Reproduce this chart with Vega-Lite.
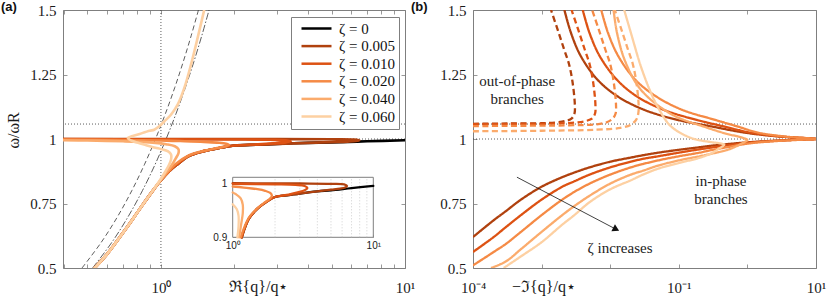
{
"$schema": "https://vega.github.io/schema/vega-lite/v6.json",
"padding": {"left": 0, "top": 0, "right": 4, "bottom": 4},
"datasets": {
"a": [
{"z":"ζ = 0","i":0,"q":0.535,"w":0.5},{"z":"ζ = 0","i":1,"q":0.597,"w":0.55},{"z":"ζ = 0","i":2,"q":0.655,"w":0.6},{"z":"ζ = 0","i":3,"q":0.716,"w":0.65},{"z":"ζ = 0","i":4,"q":0.78,"w":0.7},{"z":"ζ = 0","i":5,"q":0.849,"w":0.75},{"z":"ζ = 0","i":6,"q":0.927,"w":0.8},{"z":"ζ = 0","i":7,"q":1.0,"w":0.84},{"z":"ζ = 0","i":8,"q":1.08,"w":0.875},{"z":"ζ = 0","i":9,"q":1.16,"w":0.9},{"z":"ζ = 0","i":10,"q":1.3,"w":0.934},{"z":"ζ = 0","i":11,"q":1.5,"w":0.953},{"z":"ζ = 0","i":12,"q":1.75,"w":0.966},{"z":"ζ = 0","i":13,"q":2,"w":0.9745},{"z":"ζ = 0","i":14,"q":2.5,"w":0.978},{"z":"ζ = 0","i":15,"q":3,"w":0.981},{"z":"ζ = 0","i":16,"q":4,"w":0.985},{"z":"ζ = 0","i":17,"q":5,"w":0.987},{"z":"ζ = 0","i":18,"q":7,"w":0.991},{"z":"ζ = 0","i":19,"q":10,"w":0.995},
{"z":"ζ = 0.005","i":0,"q":0.535,"w":0.5},{"z":"ζ = 0.005","i":1,"q":0.597,"w":0.55},{"z":"ζ = 0.005","i":2,"q":0.655,"w":0.6},{"z":"ζ = 0.005","i":3,"q":0.716,"w":0.65},{"z":"ζ = 0.005","i":4,"q":0.78,"w":0.7},{"z":"ζ = 0.005","i":5,"q":0.849,"w":0.75},{"z":"ζ = 0.005","i":6,"q":0.927,"w":0.8},{"z":"ζ = 0.005","i":7,"q":1.0,"w":0.84},{"z":"ζ = 0.005","i":8,"q":1.08,"w":0.875},{"z":"ζ = 0.005","i":9,"q":1.16,"w":0.9},{"z":"ζ = 0.005","i":10,"q":1.3,"w":0.934},{"z":"ζ = 0.005","i":11,"q":1.5,"w":0.953},{"z":"ζ = 0.005","i":12,"q":1.75,"w":0.966},{"z":"ζ = 0.005","i":13,"q":2,"w":0.9745},{"z":"ζ = 0.005","i":14,"q":2.5,"w":0.978},{"z":"ζ = 0.005","i":15,"q":3,"w":0.981},{"z":"ζ = 0.005","i":16,"q":4,"w":0.985},{"z":"ζ = 0.005","i":17,"q":5,"w":0.988},{"z":"ζ = 0.005","i":18,"q":5.8,"w":0.99},{"z":"ζ = 0.005","i":19,"q":6.3,"w":0.992},{"z":"ζ = 0.005","i":20,"q":6.5,"w":0.995},{"z":"ζ = 0.005","i":21,"q":6.2,"w":0.998},{"z":"ζ = 0.005","i":22,"q":5,"w":0.999},{"z":"ζ = 0.005","i":23,"q":3,"w":0.9995},{"z":"ζ = 0.005","i":24,"q":1,"w":1.0},{"z":"ζ = 0.005","i":25,"q":0.397,"w":1.0},
{"z":"ζ = 0.010","i":0,"q":0.535,"w":0.5},{"z":"ζ = 0.010","i":1,"q":0.597,"w":0.55},{"z":"ζ = 0.010","i":2,"q":0.655,"w":0.6},{"z":"ζ = 0.010","i":3,"q":0.716,"w":0.65},{"z":"ζ = 0.010","i":4,"q":0.78,"w":0.7},{"z":"ζ = 0.010","i":5,"q":0.849,"w":0.75},{"z":"ζ = 0.010","i":6,"q":0.927,"w":0.8},{"z":"ζ = 0.010","i":7,"q":1.0,"w":0.84},{"z":"ζ = 0.010","i":8,"q":1.08,"w":0.875},{"z":"ζ = 0.010","i":9,"q":1.16,"w":0.9},{"z":"ζ = 0.010","i":10,"q":1.3,"w":0.934},{"z":"ζ = 0.010","i":11,"q":1.5,"w":0.953},{"z":"ζ = 0.010","i":12,"q":1.75,"w":0.966},{"z":"ζ = 0.010","i":13,"q":2,"w":0.9745},{"z":"ζ = 0.010","i":14,"q":2.5,"w":0.979},{"z":"ζ = 0.010","i":15,"q":2.9,"w":0.983},{"z":"ζ = 0.010","i":16,"q":3.25,"w":0.987},{"z":"ζ = 0.010","i":17,"q":3.4,"w":0.991},{"z":"ζ = 0.010","i":18,"q":3.25,"w":0.995},{"z":"ζ = 0.010","i":19,"q":2.8,"w":0.997},{"z":"ζ = 0.010","i":20,"q":2,"w":0.998},{"z":"ζ = 0.010","i":21,"q":1,"w":0.999},{"z":"ζ = 0.010","i":22,"q":0.397,"w":0.9995},
{"z":"ζ = 0.020","i":0,"q":0.535,"w":0.5},{"z":"ζ = 0.020","i":1,"q":0.597,"w":0.55},{"z":"ζ = 0.020","i":2,"q":0.655,"w":0.6},{"z":"ζ = 0.020","i":3,"q":0.716,"w":0.65},{"z":"ζ = 0.020","i":4,"q":0.78,"w":0.7},{"z":"ζ = 0.020","i":5,"q":0.849,"w":0.75},{"z":"ζ = 0.020","i":6,"q":0.927,"w":0.8},{"z":"ζ = 0.020","i":7,"q":1.0,"w":0.84},{"z":"ζ = 0.020","i":8,"q":1.08,"w":0.876},{"z":"ζ = 0.020","i":9,"q":1.14,"w":0.9},{"z":"ζ = 0.020","i":10,"q":1.3,"w":0.936},{"z":"ζ = 0.020","i":11,"q":1.5,"w":0.954},{"z":"ζ = 0.020","i":12,"q":1.7,"w":0.965},{"z":"ζ = 0.020","i":13,"q":1.85,"w":0.972},{"z":"ζ = 0.020","i":14,"q":1.9,"w":0.977},{"z":"ζ = 0.020","i":15,"q":1.85,"w":0.982},{"z":"ζ = 0.020","i":16,"q":1.7,"w":0.986},{"z":"ζ = 0.020","i":17,"q":1.5,"w":0.989},{"z":"ζ = 0.020","i":18,"q":1.2,"w":0.992},{"z":"ζ = 0.020","i":19,"q":1.0,"w":0.994},{"z":"ζ = 0.020","i":20,"q":0.7,"w":0.996},{"z":"ζ = 0.020","i":21,"q":0.397,"w":0.998},
{"z":"ζ = 0.040","i":0,"q":0.535,"w":0.5},{"z":"ζ = 0.040","i":1,"q":0.597,"w":0.55},{"z":"ζ = 0.040","i":2,"q":0.655,"w":0.6},{"z":"ζ = 0.040","i":3,"q":0.716,"w":0.65},{"z":"ζ = 0.040","i":4,"q":0.78,"w":0.7},{"z":"ζ = 0.040","i":5,"q":0.849,"w":0.75},{"z":"ζ = 0.040","i":6,"q":0.927,"w":0.8},{"z":"ζ = 0.040","i":7,"q":1.0,"w":0.842},{"z":"ζ = 0.040","i":8,"q":1.06,"w":0.875},{"z":"ζ = 0.040","i":9,"q":1.11,"w":0.9},{"z":"ζ = 0.040","i":10,"q":1.15,"w":0.925},{"z":"ζ = 0.040","i":11,"q":1.18,"w":0.945},{"z":"ζ = 0.040","i":12,"q":1.18,"w":0.96},{"z":"ζ = 0.040","i":13,"q":1.14,"w":0.972},{"z":"ζ = 0.040","i":14,"q":1.05,"w":0.98},{"z":"ζ = 0.040","i":15,"q":1.0,"w":0.983},{"z":"ζ = 0.040","i":16,"q":0.9,"w":0.987},{"z":"ζ = 0.040","i":17,"q":0.7,"w":0.991},{"z":"ζ = 0.040","i":18,"q":0.5,"w":0.994},{"z":"ζ = 0.040","i":19,"q":0.397,"w":0.995},
{"z":"ζ = 0.060","i":0,"q":0.535,"w":0.5},{"z":"ζ = 0.060","i":1,"q":0.597,"w":0.55},{"z":"ζ = 0.060","i":2,"q":0.655,"w":0.6},{"z":"ζ = 0.060","i":3,"q":0.716,"w":0.65},{"z":"ζ = 0.060","i":4,"q":0.78,"w":0.7},{"z":"ζ = 0.060","i":5,"q":0.849,"w":0.75},{"z":"ζ = 0.060","i":6,"q":0.927,"w":0.8},{"z":"ζ = 0.060","i":7,"q":1.0,"w":0.846},{"z":"ζ = 0.060","i":8,"q":1.04,"w":0.872},{"z":"ζ = 0.060","i":9,"q":1.08,"w":0.9},{"z":"ζ = 0.060","i":10,"q":1.1,"w":0.92},{"z":"ζ = 0.060","i":11,"q":1.1,"w":0.94},{"z":"ζ = 0.060","i":12,"q":1.07,"w":0.952},{"z":"ζ = 0.060","i":13,"q":1.0,"w":0.961},{"z":"ζ = 0.060","i":14,"q":0.95,"w":0.966},{"z":"ζ = 0.060","i":15,"q":0.87,"w":0.976},{"z":"ζ = 0.060","i":16,"q":0.8,"w":0.986},{"z":"ζ = 0.060","i":17,"q":0.76,"w":0.993},{"z":"ζ = 0.060","i":18,"q":0.74,"w":0.999},{"z":"ζ = 0.060","i":19,"q":0.732,"w":1.004},{"z":"ζ = 0.060","i":20,"q":0.818,"w":1.0195},{"z":"ζ = 0.060","i":21,"q":0.899,"w":1.032},{"z":"ζ = 0.060","i":22,"q":0.939,"w":1.036},{"z":"ζ = 0.060","i":23,"q":0.984,"w":1.049},{"z":"ζ = 0.060","i":24,"q":1.032,"w":1.068},{"z":"ζ = 0.060","i":25,"q":1.099,"w":1.094},{"z":"ζ = 0.060","i":26,"q":1.171,"w":1.133},{"z":"ζ = 0.060","i":27,"q":1.246,"w":1.197},{"z":"ζ = 0.060","i":28,"q":1.327,"w":1.287},{"z":"ζ = 0.060","i":29,"q":1.413,"w":1.391},{"z":"ζ = 0.060","i":30,"q":1.504,"w":1.5}
],
"ad": [
{"k":"dash","i":0,"q":0.475,"w":0.5},{"k":"dash","i":1,"q":0.57,"w":0.6},{"k":"dash","i":2,"q":0.665,"w":0.7},{"k":"dash","i":3,"q":0.76,"w":0.8},{"k":"dash","i":4,"q":0.855,"w":0.9},{"k":"dash","i":5,"q":0.95,"w":1.0},{"k":"dash","i":6,"q":1.045,"w":1.1},{"k":"dash","i":7,"q":1.14,"w":1.2},{"k":"dash","i":8,"q":1.235,"w":1.3},{"k":"dash","i":9,"q":1.33,"w":1.4},{"k":"dash","i":10,"q":1.425,"w":1.5},
{"k":"dashdot","i":0,"q":0.525,"w":0.5},{"k":"dashdot","i":1,"q":0.63,"w":0.6},{"k":"dashdot","i":2,"q":0.735,"w":0.7},{"k":"dashdot","i":3,"q":0.84,"w":0.8},{"k":"dashdot","i":4,"q":0.945,"w":0.9},{"k":"dashdot","i":5,"q":1.05,"w":1.0},{"k":"dashdot","i":6,"q":1.155,"w":1.1},{"k":"dashdot","i":7,"q":1.26,"w":1.2},{"k":"dashdot","i":8,"q":1.365,"w":1.3},{"k":"dashdot","i":9,"q":1.47,"w":1.4},{"k":"dashdot","i":10,"q":1.575,"w":1.5}
],
"b": [
{"z":"ζ = 0.005","s":"solid","i":0,"q":0.0001,"w":0.62},{"z":"ζ = 0.005","s":"solid","i":1,"q":0.0002,"w":0.685},{"z":"ζ = 0.005","s":"solid","i":2,"q":0.0003,"w":0.72},{"z":"ζ = 0.005","s":"solid","i":3,"q":0.0005,"w":0.765},{"z":"ζ = 0.005","s":"solid","i":4,"q":0.001,"w":0.815},{"z":"ζ = 0.005","s":"solid","i":5,"q":0.002,"w":0.852},{"z":"ζ = 0.005","s":"solid","i":6,"q":0.003,"w":0.87},{"z":"ζ = 0.005","s":"solid","i":7,"q":0.005,"w":0.89},{"z":"ζ = 0.005","s":"solid","i":8,"q":0.01,"w":0.912},{"z":"ζ = 0.005","s":"solid","i":9,"q":0.02,"w":0.928},{"z":"ζ = 0.005","s":"solid","i":10,"q":0.03,"w":0.937},{"z":"ζ = 0.005","s":"solid","i":11,"q":0.05,"w":0.947},{"z":"ζ = 0.005","s":"solid","i":12,"q":0.1,"w":0.958},{"z":"ζ = 0.005","s":"solid","i":13,"q":0.2,"w":0.968},{"z":"ζ = 0.005","s":"solid","i":14,"q":0.3,"w":0.974},{"z":"ζ = 0.005","s":"solid","i":15,"q":0.5,"w":0.98},{"z":"ζ = 0.005","s":"solid","i":16,"q":1,"w":0.987},{"z":"ζ = 0.005","s":"solid","i":17,"q":2,"w":0.992},{"z":"ζ = 0.005","s":"solid","i":18,"q":5,"w":0.997},{"z":"ζ = 0.005","s":"solid","i":19,"q":10,"w":1.0},{"z":"ζ = 0.005","s":"solid","i":20,"q":2.77,"w":1.01},{"z":"ζ = 0.005","s":"solid","i":21,"q":0.902,"w":1.025},{"z":"ζ = 0.005","s":"solid","i":22,"q":0.294,"w":1.049},{"z":"ζ = 0.005","s":"solid","i":23,"q":0.0964,"w":1.074},{"z":"ζ = 0.005","s":"solid","i":24,"q":0.0314,"w":1.113},{"z":"ζ = 0.005","s":"solid","i":25,"q":0.01285,"w":1.165},{"z":"ζ = 0.005","s":"solid","i":26,"q":0.00658,"w":1.229},{"z":"ζ = 0.005","s":"solid","i":27,"q":0.00375,"w":1.32},{"z":"ζ = 0.005","s":"solid","i":28,"q":0.00269,"w":1.41},{"z":"ζ = 0.005","s":"solid","i":29,"q":0.00215,"w":1.5},
{"z":"ζ = 0.005","s":"dashed","i":0,"q":0.0001,"w":1.059},{"z":"ζ = 0.005","s":"dashed","i":1,"q":0.000316,"w":1.06},{"z":"ζ = 0.005","s":"dashed","i":2,"q":0.001,"w":1.061},{"z":"ζ = 0.005","s":"dashed","i":3,"q":0.001585,"w":1.064},{"z":"ζ = 0.005","s":"dashed","i":4,"q":0.002239,"w":1.07},{"z":"ζ = 0.005","s":"dashed","i":5,"q":0.002754,"w":1.08},{"z":"ζ = 0.005","s":"dashed","i":6,"q":0.00302,"w":1.1},{"z":"ζ = 0.005","s":"dashed","i":7,"q":0.003055,"w":1.13},{"z":"ζ = 0.005","s":"dashed","i":8,"q":0.002838,"w":1.217},{"z":"ζ = 0.005","s":"dashed","i":9,"q":0.002512,"w":1.29},{"z":"ζ = 0.005","s":"dashed","i":10,"q":0.002143,"w":1.345},{"z":"ζ = 0.005","s":"dashed","i":11,"q":0.001718,"w":1.423},{"z":"ζ = 0.005","s":"dashed","i":12,"q":0.001371,"w":1.5},
{"z":"ζ = 0.010","s":"solid","i":0,"q":0.0001,"w":0.562},{"z":"ζ = 0.010","s":"solid","i":1,"q":0.0002,"w":0.62},{"z":"ζ = 0.010","s":"solid","i":2,"q":0.0003,"w":0.658},{"z":"ζ = 0.010","s":"solid","i":3,"q":0.0005,"w":0.705},{"z":"ζ = 0.010","s":"solid","i":4,"q":0.001,"w":0.765},{"z":"ζ = 0.010","s":"solid","i":5,"q":0.002,"w":0.815},{"z":"ζ = 0.010","s":"solid","i":6,"q":0.003,"w":0.836},{"z":"ζ = 0.010","s":"solid","i":7,"q":0.005,"w":0.862},{"z":"ζ = 0.010","s":"solid","i":8,"q":0.01,"w":0.89},{"z":"ζ = 0.010","s":"solid","i":9,"q":0.02,"w":0.912},{"z":"ζ = 0.010","s":"solid","i":10,"q":0.03,"w":0.923},{"z":"ζ = 0.010","s":"solid","i":11,"q":0.05,"w":0.933},{"z":"ζ = 0.010","s":"solid","i":12,"q":0.1,"w":0.947},{"z":"ζ = 0.010","s":"solid","i":13,"q":0.2,"w":0.96},{"z":"ζ = 0.010","s":"solid","i":14,"q":0.3,"w":0.967},{"z":"ζ = 0.010","s":"solid","i":15,"q":0.5,"w":0.975},{"z":"ζ = 0.010","s":"solid","i":16,"q":1,"w":0.985},{"z":"ζ = 0.010","s":"solid","i":17,"q":2,"w":0.991},{"z":"ζ = 0.010","s":"solid","i":18,"q":5,"w":0.997},{"z":"ζ = 0.010","s":"solid","i":19,"q":10,"w":1.0},{"z":"ζ = 0.010","s":"solid","i":20,"q":3.02,"w":1.01},{"z":"ζ = 0.010","s":"solid","i":21,"q":1.096,"w":1.025},{"z":"ζ = 0.010","s":"solid","i":22,"q":0.447,"w":1.049},{"z":"ζ = 0.010","s":"solid","i":23,"q":0.182,"w":1.074},{"z":"ζ = 0.010","s":"solid","i":24,"q":0.0603,"w":1.113},{"z":"ζ = 0.010","s":"solid","i":25,"q":0.0245,"w":1.165},{"z":"ζ = 0.010","s":"solid","i":26,"q":0.0126,"w":1.229},{"z":"ζ = 0.010","s":"solid","i":27,"q":0.00708,"w":1.32},{"z":"ζ = 0.010","s":"solid","i":28,"q":0.00501,"w":1.41},{"z":"ζ = 0.010","s":"solid","i":29,"q":0.00398,"w":1.5},
{"z":"ζ = 0.010","s":"dashed","i":0,"q":0.0001,"w":1.058},{"z":"ζ = 0.010","s":"dashed","i":1,"q":0.000316,"w":1.058},{"z":"ζ = 0.010","s":"dashed","i":2,"q":0.001585,"w":1.06},{"z":"ζ = 0.010","s":"dashed","i":3,"q":0.003162,"w":1.064},{"z":"ζ = 0.010","s":"dashed","i":4,"q":0.004467,"w":1.07},{"z":"ζ = 0.010","s":"dashed","i":5,"q":0.005495,"w":1.08},{"z":"ζ = 0.010","s":"dashed","i":6,"q":0.006026,"w":1.1},{"z":"ζ = 0.010","s":"dashed","i":7,"q":0.006095,"w":1.13},{"z":"ζ = 0.010","s":"dashed","i":8,"q":0.005662,"w":1.217},{"z":"ζ = 0.010","s":"dashed","i":9,"q":0.005012,"w":1.29},{"z":"ζ = 0.010","s":"dashed","i":10,"q":0.004276,"w":1.345},{"z":"ζ = 0.010","s":"dashed","i":11,"q":0.003428,"w":1.423},{"z":"ζ = 0.010","s":"dashed","i":12,"q":0.002735,"w":1.5},
{"z":"ζ = 0.020","s":"solid","i":0,"q":0.0001,"w":0.51},{"z":"ζ = 0.020","s":"solid","i":1,"q":0.0002,"w":0.562},{"z":"ζ = 0.020","s":"solid","i":2,"q":0.0003,"w":0.593},{"z":"ζ = 0.020","s":"solid","i":3,"q":0.0005,"w":0.64},{"z":"ζ = 0.020","s":"solid","i":4,"q":0.001,"w":0.705},{"z":"ζ = 0.020","s":"solid","i":5,"q":0.002,"w":0.765},{"z":"ζ = 0.020","s":"solid","i":6,"q":0.003,"w":0.795},{"z":"ζ = 0.020","s":"solid","i":7,"q":0.005,"w":0.827},{"z":"ζ = 0.020","s":"solid","i":8,"q":0.01,"w":0.862},{"z":"ζ = 0.020","s":"solid","i":9,"q":0.02,"w":0.89},{"z":"ζ = 0.020","s":"solid","i":10,"q":0.03,"w":0.903},{"z":"ζ = 0.020","s":"solid","i":11,"q":0.05,"w":0.917},{"z":"ζ = 0.020","s":"solid","i":12,"q":0.1,"w":0.933},{"z":"ζ = 0.020","s":"solid","i":13,"q":0.2,"w":0.947},{"z":"ζ = 0.020","s":"solid","i":14,"q":0.3,"w":0.957},{"z":"ζ = 0.020","s":"solid","i":15,"q":0.5,"w":0.968},{"z":"ζ = 0.020","s":"solid","i":16,"q":1,"w":0.982},{"z":"ζ = 0.020","s":"solid","i":17,"q":2,"w":0.99},{"z":"ζ = 0.020","s":"solid","i":18,"q":5,"w":0.996},{"z":"ζ = 0.020","s":"solid","i":19,"q":10,"w":1.0},{"z":"ζ = 0.020","s":"solid","i":20,"q":3.39,"w":1.01},{"z":"ζ = 0.020","s":"solid","i":21,"q":1.413,"w":1.025},{"z":"ζ = 0.020","s":"solid","i":22,"q":0.708,"w":1.049},{"z":"ζ = 0.020","s":"solid","i":23,"q":0.339,"w":1.074},{"z":"ζ = 0.020","s":"solid","i":24,"q":0.112,"w":1.113},{"z":"ζ = 0.020","s":"solid","i":25,"q":0.0468,"w":1.165},{"z":"ζ = 0.020","s":"solid","i":26,"q":0.0234,"w":1.229},{"z":"ζ = 0.020","s":"solid","i":27,"q":0.0132,"w":1.32},{"z":"ζ = 0.020","s":"solid","i":28,"q":0.00933,"w":1.41},{"z":"ζ = 0.020","s":"solid","i":29,"q":0.00741,"w":1.5},
{"z":"ζ = 0.020","s":"dashed","i":0,"q":0.0001,"w":1.05},{"z":"ζ = 0.020","s":"dashed","i":1,"q":0.000316,"w":1.051},{"z":"ζ = 0.020","s":"dashed","i":2,"q":0.002512,"w":1.053},{"z":"ζ = 0.020","s":"dashed","i":3,"q":0.00631,"w":1.057},{"z":"ζ = 0.020","s":"dashed","i":4,"q":0.008913,"w":1.065},{"z":"ζ = 0.020","s":"dashed","i":5,"q":0.01096,"w":1.08},{"z":"ζ = 0.020","s":"dashed","i":6,"q":0.01202,"w":1.1},{"z":"ζ = 0.020","s":"dashed","i":7,"q":0.01216,"w":1.13},{"z":"ζ = 0.020","s":"dashed","i":8,"q":0.0113,"w":1.217},{"z":"ζ = 0.020","s":"dashed","i":9,"q":0.01,"w":1.29},{"z":"ζ = 0.020","s":"dashed","i":10,"q":0.008531,"w":1.345},{"z":"ζ = 0.020","s":"dashed","i":11,"q":0.006839,"w":1.423},{"z":"ζ = 0.020","s":"dashed","i":12,"q":0.005458,"w":1.5},
{"z":"ζ = 0.040","s":"solid","i":0,"q":0.000183,"w":0.5},{"z":"ζ = 0.040","s":"solid","i":1,"q":0.0003,"w":0.525},{"z":"ζ = 0.040","s":"solid","i":2,"q":0.0005,"w":0.573},{"z":"ζ = 0.040","s":"solid","i":3,"q":0.001,"w":0.64},{"z":"ζ = 0.040","s":"solid","i":4,"q":0.002,"w":0.705},{"z":"ζ = 0.040","s":"solid","i":5,"q":0.003,"w":0.74},{"z":"ζ = 0.040","s":"solid","i":6,"q":0.005,"w":0.78},{"z":"ζ = 0.040","s":"solid","i":7,"q":0.01,"w":0.827},{"z":"ζ = 0.040","s":"solid","i":8,"q":0.02,"w":0.862},{"z":"ζ = 0.040","s":"solid","i":9,"q":0.03,"w":0.877},{"z":"ζ = 0.040","s":"solid","i":10,"q":0.05,"w":0.897},{"z":"ζ = 0.040","s":"solid","i":11,"q":0.1,"w":0.917},{"z":"ζ = 0.040","s":"solid","i":12,"q":0.2,"w":0.933},{"z":"ζ = 0.040","s":"solid","i":13,"q":0.3,"w":0.943},{"z":"ζ = 0.040","s":"solid","i":14,"q":0.5,"w":0.957},{"z":"ζ = 0.040","s":"solid","i":15,"q":0.631,"w":0.967},{"z":"ζ = 0.040","s":"solid","i":16,"q":0.794,"w":0.98},{"z":"ζ = 0.040","s":"solid","i":17,"q":0.933,"w":0.99},{"z":"ζ = 0.040","s":"solid","i":18,"q":1.0,"w":0.996},{"z":"ζ = 0.040","s":"solid","i":19,"q":0.8,"w":1.007},{"z":"ζ = 0.040","s":"solid","i":20,"q":0.501,"w":1.02},{"z":"ζ = 0.040","s":"solid","i":21,"q":0.251,"w":1.045},{"z":"ζ = 0.040","s":"solid","i":22,"q":0.0794,"w":1.095},{"z":"ζ = 0.040","s":"solid","i":23,"q":0.0282,"w":1.19},{"z":"ζ = 0.040","s":"solid","i":24,"q":0.0166,"w":1.3},{"z":"ζ = 0.040","s":"solid","i":25,"q":0.0126,"w":1.41},{"z":"ζ = 0.040","s":"solid","i":26,"q":0.0112,"w":1.5},
{"z":"ζ = 0.040","s":"dashed","i":0,"q":0.0001,"w":1.03},{"z":"ζ = 0.040","s":"dashed","i":1,"q":0.001,"w":1.032},{"z":"ζ = 0.040","s":"dashed","i":2,"q":0.00631,"w":1.036},{"z":"ζ = 0.040","s":"dashed","i":3,"q":0.01413,"w":1.043},{"z":"ζ = 0.040","s":"dashed","i":4,"q":0.01995,"w":1.055},{"z":"ζ = 0.040","s":"dashed","i":5,"q":0.02399,"w":1.075},{"z":"ζ = 0.040","s":"dashed","i":6,"q":0.0257,"w":1.1},{"z":"ζ = 0.040","s":"dashed","i":7,"q":0.026,"w":1.13},{"z":"ζ = 0.040","s":"dashed","i":8,"q":0.02415,"w":1.217},{"z":"ζ = 0.040","s":"dashed","i":9,"q":0.02138,"w":1.29},{"z":"ζ = 0.040","s":"dashed","i":10,"q":0.01824,"w":1.345},{"z":"ζ = 0.040","s":"dashed","i":11,"q":0.01462,"w":1.423},{"z":"ζ = 0.040","s":"dashed","i":12,"q":0.01167,"w":1.5},
{"z":"ζ = 0.060","s":"solid","i":0,"q":0.00028,"w":0.5},{"z":"ζ = 0.060","s":"solid","i":1,"q":0.0005,"w":0.545},{"z":"ζ = 0.060","s":"solid","i":2,"q":0.001,"w":0.6},{"z":"ζ = 0.060","s":"solid","i":3,"q":0.002,"w":0.668},{"z":"ζ = 0.060","s":"solid","i":4,"q":0.003,"w":0.705},{"z":"ζ = 0.060","s":"solid","i":5,"q":0.005,"w":0.755},{"z":"ζ = 0.060","s":"solid","i":6,"q":0.01,"w":0.805},{"z":"ζ = 0.060","s":"solid","i":7,"q":0.02,"w":0.84},{"z":"ζ = 0.060","s":"solid","i":8,"q":0.03,"w":0.862},{"z":"ζ = 0.060","s":"solid","i":9,"q":0.05,"w":0.885},{"z":"ζ = 0.060","s":"solid","i":10,"q":0.1,"w":0.907},{"z":"ζ = 0.060","s":"solid","i":11,"q":0.2,"w":0.927},{"z":"ζ = 0.060","s":"solid","i":12,"q":0.3,"w":0.945},{"z":"ζ = 0.060","s":"solid","i":13,"q":0.38,"w":0.962},{"z":"ζ = 0.060","s":"solid","i":14,"q":0.46,"w":0.978},{"z":"ζ = 0.060","s":"solid","i":15,"q":0.4,"w":0.983},{"z":"ζ = 0.060","s":"solid","i":16,"q":0.294,"w":0.988},{"z":"ζ = 0.060","s":"solid","i":17,"q":0.151,"w":1.004},{"z":"ζ = 0.060","s":"solid","i":18,"q":0.0769,"w":1.049},{"z":"ζ = 0.060","s":"solid","i":19,"q":0.052,"w":1.113},{"z":"ζ = 0.060","s":"solid","i":20,"q":0.0394,"w":1.178},{"z":"ζ = 0.060","s":"solid","i":21,"q":0.0281,"w":1.28},{"z":"ζ = 0.060","s":"solid","i":22,"q":0.0201,"w":1.41},{"z":"ζ = 0.060","s":"solid","i":23,"q":0.016,"w":1.5}
],
"bt": [
{"q":0.00044,"w":1.2256,"t":"out-of-phase\nbranches"},
{"q":0.412,"w":0.839,"t":"in-phase\nbranches"},
{"q":0.0139,"w":0.579,"t":"ζ increases"}
]
},
"hconcat": [
{
"width": 342, "height": 258,
"title": {"text": "(a)", "anchor": "start", "frame": "group", "dx": -62, "offset": -11},
"layer": [
{"layer": [
{"data": {"values": [{"q": 1}]}, "mark": {"type": "rule", "strokeDash": [1, 2], "color": "#333", "strokeWidth": 0.8}, "encoding": {"x": {"field": "q", "type": "quantitative", "scale": {"type": "log", "domain": [0.397, 10], "nice": false}}}},
{"data": {"values": [{"w": 1}, {"w": 1.058}]}, "mark": {"type": "rule", "strokeDash": [1, 2], "color": "#333", "strokeWidth": 0.8}, "encoding": {"y": {"field": "w", "type": "quantitative", "scale": {"domain": [0.5, 1.5], "nice": false, "zero": false}}}},
{"data": {"name": "ad"}, "mark": {"type": "line", "color": "#333", "strokeWidth": 0.8, "interpolate": "catmull-rom", "clip": true}, "encoding": {"x": {"field": "q", "type": "quantitative"}, "y": {"field": "w", "type": "quantitative"}, "strokeDash": {"field": "k", "type": "nominal", "scale": {"domain": ["dash", "dashdot"], "range": [[5, 3], [7, 2, 1.5, 2]]}, "legend": null}, "order": {"field": "i", "type": "quantitative"}}},
{"data": {"name": "a"}, "mark": {"type": "line", "strokeWidth": 2.6, "interpolate": "catmull-rom", "strokeCap": "round", "strokeJoin": "round", "clip": true},
 "encoding": {
  "x": {"field": "q", "type": "quantitative", "scale": {"type": "log", "domain": [0.397, 10], "nice": false},
        "axis": {"orient": "bottom", "values": [0.4, 0.5, 0.6, 0.7, 0.8, 0.9, 1, 2, 3, 4, 5, 6, 7, 8, 9, 10], "labelExpr": "datum.value == 1 ? '10⁰' : (datum.value == 10 ? '10¹' : '')", "labelPadding": 16, "title": "ℜ{q}/q⋆", "titleX": 195, "titleY": 23, "titleBaseline": "alphabetic", "titleAlign": "center"}},
  "y": {"field": "w", "type": "quantitative", "scale": {"domain": [0.5, 1.5], "nice": false, "zero": false},
        "axis": {"orient": "left", "values": [0.5, 0.75, 1, 1.25, 1.5], "labelExpr": "'' + datum.value", "labelPadding": 11, "title": "ω/ωR", "titleX": -42, "titleY": 120}},
  "color": {"field": "z", "type": "nominal", "scale": {"domain": ["ζ = 0", "ζ = 0.005", "ζ = 0.010", "ζ = 0.020", "ζ = 0.040", "ζ = 0.060"], "range": ["#000000", "#b0410e", "#dd5213", "#f58a45", "#fbab6c", "#fdd0a2"]},
        "legend": {"orient": "none", "legendX": 228, "legendY": 7, "title": null, "symbolType": "M-3,0H3", "symbolSize": 100, "symbolStrokeWidth": 2.5, "symbolOffset": 14, "labelOffset": 15, "labelFont": "Liberation Serif", "labelFontSize": 15, "labelColor": "#111", "rowPadding": 1.6, "padding": 4, "strokeColor": "#7f7f7f", "fillColor": "white", "cornerRadius": 0}},
  "order": {"field": "i", "type": "quantitative"}
 }}
]},
{"data": {"values": [{"q": 1, "w": 1}]}, "mark": {"type": "point", "opacity": 0},
 "encoding": {
  "x": {"field": "q", "type": "quantitative", "scale": {"type": "log", "domain": [0.397, 10], "nice": false}, "axis": {"orient": "top", "values": [0.4, 0.5, 0.6, 0.7, 0.8, 0.9, 1, 2, 3, 4, 5, 6, 7, 8, 9, 10], "labels": false, "title": null}},
  "y": {"field": "w", "type": "quantitative", "scale": {"domain": [0.5, 1.5], "nice": false, "zero": false}, "axis": {"orient": "right", "values": [0.5, 0.75, 1, 1.25, 1.5], "labels": false, "title": null}}
 }},
{"layer": [
{"data": {"values": [{"q1": 1, "q2": 10, "w1": 0.9, "w2": 1.011}]}, "mark": {"type": "rect", "fill": "white", "stroke": "#7f7f7f", "strokeWidth": 1},
 "encoding": {
  "x": {"field": "q1", "type": "quantitative", "scale": {"type": "log", "domain": [1, 10], "range": [169.7, 310.3], "nice": false},
        "axis": {"orient": "bottom", "offset": -30.7, "values": [1, 10], "labelExpr": "datum.value == 1 ? '10⁰' : '10¹'", "labelFont": "Liberation Sans", "labelFontSize": 10, "tickSize": -3, "labelPadding": 6, "title": null}},
  "x2": {"field": "q2"},
  "y": {"field": "w1", "type": "quantitative", "scale": {"domain": [0.9, 1.011], "range": [227.3, 167.3], "nice": false, "zero": false},
        "axis": {"orient": "left", "offset": -169.7, "values": [0.9, 1], "labelExpr": "'' + datum.value", "labelFont": "Liberation Sans", "labelFontSize": 10, "tickSize": -3, "labelPadding": 9, "title": null}},
  "y2": {"field": "w2"}
 }},
{"data": {"values": [{"q": 2}, {"q": 3}, {"q": 4}, {"q": 5}, {"q": 6}, {"q": 7}, {"q": 8}, {"q": 9}]}, "mark": {"type": "rule", "strokeDash": [1, 2], "color": "#c4c4c4", "strokeWidth": 0.8},
 "encoding": {"x": {"field": "q", "type": "quantitative"}, "y": {"datum": 0.9}, "y2": {"datum": 1.011}}},
{"data": {"name": "a"}, "transform": [{"filter": "datum.q >= 1 && datum.q <= 10 && datum.w >= 0.9 && datum.w <= 1.011"}],
 "mark": {"type": "line", "strokeWidth": 2.3, "interpolate": "catmull-rom", "strokeCap": "round", "strokeJoin": "round"},
 "encoding": {
  "x": {"field": "q", "type": "quantitative"},
  "y": {"field": "w", "type": "quantitative"},
  "color": {"field": "z", "type": "nominal", "scale": {"domain": ["ζ = 0", "ζ = 0.005", "ζ = 0.010", "ζ = 0.020", "ζ = 0.040", "ζ = 0.060"], "range": ["#000000", "#b0410e", "#dd5213", "#f58a45", "#fbab6c", "#fdd0a2"]}},
  "order": {"field": "i", "type": "quantitative"}
 }}
]}
],
"resolve": {"scale": {"x": "independent", "y": "independent"}}
},
{
"width": 343, "height": 258,
"title": {"text": "(b)", "anchor": "start", "frame": "group", "dx": -62, "offset": -11},
"layer": [
{"layer": [
{"data": {"values": [{"w": 1}, {"w": 1.058}]}, "mark": {"type": "rule", "strokeDash": [1, 2], "color": "#333", "strokeWidth": 0.8}, "encoding": {"y": {"field": "w", "type": "quantitative", "scale": {"domain": [0.5, 1.5], "nice": false, "zero": false}}}},
{"data": {"name": "b"}, "mark": {"type": "line", "strokeWidth": 2.3, "interpolate": "catmull-rom", "strokeJoin": "round", "clip": true},
 "encoding": {
  "x": {"field": "q", "type": "quantitative", "scale": {"type": "log", "domain": [0.0001, 10], "nice": false},
        "axis": {"orient": "bottom", "values": [0.0001, 0.001, 0.01, 0.1, 1, 10], "labelExpr": "datum.value < 0.0002 ? '10⁻⁴' : ((datum.value > 0.09 && datum.value < 0.11) ? '10⁻¹' : (datum.value > 9 ? '10¹' : ''))", "labelPadding": 16, "title": "−ℑ{q}/q⋆", "titleX": 70.5, "titleY": 23, "titleBaseline": "alphabetic", "titleAlign": "center"}},
  "y": {"field": "w", "type": "quantitative", "scale": {"domain": [0.5, 1.5], "nice": false, "zero": false},
        "axis": {"orient": "left", "values": [0.5, 0.75, 1, 1.25, 1.5], "labelExpr": "'' + datum.value", "labelPadding": 11, "title": null}},
  "color": {"field": "z", "type": "nominal", "scale": {"domain": ["ζ = 0", "ζ = 0.005", "ζ = 0.010", "ζ = 0.020", "ζ = 0.040", "ζ = 0.060"], "range": ["#000000", "#b0410e", "#dd5213", "#f58a45", "#fbab6c", "#fdd0a2"]}, "legend": null},
  "strokeDash": {"field": "s", "type": "nominal", "scale": {"domain": ["solid", "dashed"], "range": [[1, 0], [6, 3.5]]}, "legend": null},
  "order": {"field": "i", "type": "quantitative"}
 }},
{"data": {"name": "bt"}, "mark": {"type": "text", "font": "Liberation Serif", "fontSize": 15, "lineBreak": "\n", "lineHeight": 18.5, "align": "center", "baseline": "middle", "color": "#222"},
 "encoding": {"x": {"field": "q", "type": "quantitative"}, "y": {"field": "w", "type": "quantitative"}, "text": {"field": "t"}}},
{"data": {"values": [{"q": 0.000437, "w": 0.852, "i": 0}, {"q": 0.0122, "w": 0.65, "i": 1}]}, "mark": {"type": "line", "color": "#111", "strokeWidth": 0.8},
 "encoding": {"x": {"field": "q", "type": "quantitative"}, "y": {"field": "w", "type": "quantitative"}, "order": {"field": "i", "type": "quantitative"}}},
{"data": {"values": [{"q": 0.0122, "w": 0.65}]}, "mark": {"type": "point", "shape": "triangle-right", "angle": 27.7, "size": 60, "filled": true, "color": "#111", "opacity": 1},
 "encoding": {"x": {"field": "q", "type": "quantitative"}, "y": {"field": "w", "type": "quantitative"}}}
]},
{"data": {"values": [{"q": 1, "w": 1}]}, "mark": {"type": "point", "opacity": 0},
 "encoding": {
  "x": {"field": "q", "type": "quantitative", "scale": {"type": "log", "domain": [0.0001, 10], "nice": false}, "axis": {"orient": "top", "values": [0.0001, 0.001, 0.01, 0.1, 1, 10], "labels": false, "title": null}},
  "y": {"field": "w", "type": "quantitative", "scale": {"domain": [0.5, 1.5], "nice": false, "zero": false}, "axis": {"orient": "right", "values": [0.5, 0.75, 1, 1.25, 1.5], "labels": false, "title": null}}
 }}
],
"resolve": {"scale": {"x": "independent", "y": "independent"}}
}
],
"spacing": 68,
"bounds": "flush",
"resolve": {"scale": {"color": "independent", "strokeDash": "independent"}},
"config": {
"view": {"stroke": "#7f7f7f", "strokeWidth": 1},
"axis": {"labelFont": "Liberation Serif", "labelFontSize": 15, "labelColor": "#1a1a1a", "titleFont": "Liberation Serif", "titleFontSize": 16, "titleFontWeight": "normal", "titleColor": "#1a1a1a", "tickColor": "#7f7f7f", "tickWidth": 0.8, "tickSize": -4, "domain": false, "grid": false, "labelOverlap": false, "labelFlush": false},
"title": {"font": "Liberation Sans", "fontSize": 13, "fontWeight": "bold", "color": "#111"}
}
}
